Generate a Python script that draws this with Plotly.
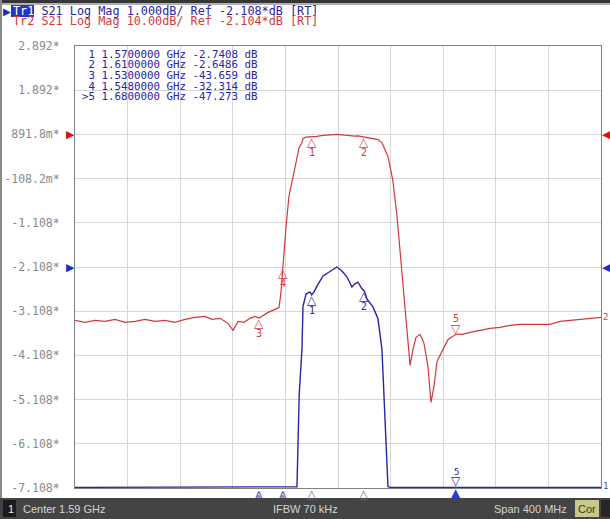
import numpy as np
import plotly.graph_objects as go

# ---------------- data ----------------
freq_ghz = [1.3900, 1.3976, 1.4052, 1.4128, 1.4204, 1.4280, 1.4356, 1.4432, 1.4508, 1.4584,
            1.4660, 1.4737, 1.4813, 1.4889, 1.4942, 1.5003, 1.5063, 1.5102, 1.5140, 1.5185,
            1.5231, 1.5269, 1.5300, 1.5330, 1.5368, 1.5421, 1.5452, 1.5467, 1.5480, 1.5505,
            1.5527, 1.5558, 1.5588, 1.5605, 1.5626, 1.5634, 1.5657, 1.5687, 1.5700, 1.5720,
            1.5740, 1.5786, 1.5839, 1.5892, 1.5930, 1.5968, 1.6006, 1.6029, 1.6052, 1.6082,
            1.6100, 1.6120, 1.6166, 1.6204, 1.6234, 1.6257, 1.6280, 1.6300, 1.6318, 1.6349,
            1.6372, 1.6394, 1.6417, 1.6432, 1.6448, 1.6470, 1.6493, 1.6524, 1.6554, 1.6584,
            1.6607, 1.6630, 1.6653, 1.6691, 1.6737, 1.6800, 1.6843, 1.6904, 1.6980, 1.7056,
            1.7132, 1.7208, 1.7284, 1.7360, 1.7436, 1.7512, 1.7588, 1.7664, 1.7740, 1.7816,
            1.7900]
s21_db = [-44.17, -44.63, -44.17, -44.40, -43.95, -44.63, -44.40, -43.95, -44.40, -44.17,
          -44.63, -43.95, -43.50, -43.27, -43.95, -43.72, -44.85, -46.44, -44.40, -44.63,
          -43.72, -43.27, -43.66, -43.05, -42.37, -41.69, -41.24, -37.62, -32.31, -22.91,
          -16.13, -11.60, -7.08, -5.00, -3.96, -2.99, -2.72, -2.67, -2.74, -2.66,
          -2.54, -2.31, -2.20, -2.108, -2.20, -2.33, -2.56, -2.49, -2.45, -2.60,
          -2.65, -2.83, -3.01, -3.28, -3.96, -5.55, -7.08, -10.00, -12.74, -20.65,
          -28.57, -36.49, -44.40, -50.06, -54.36, -50.74, -48.02, -47.34, -49.38, -54.58,
          -62.73, -59.11, -53.45, -51.19, -48.48, -47.27, -47.34, -46.89, -46.44, -45.99,
          -45.76, -45.31, -45.08, -45.08, -45.08, -45.08, -44.40, -44.17, -43.95, -43.72,
          -43.50]

marker_ids = [1, 2, 3, 4, 5]
marker_freq_ghz = [1.5700000, 1.6100000, 1.5300000, 1.5480000, 1.6800000]
marker_db = [-2.7408, -2.6486, -43.659, -32.314, -47.273]
active_marker = 5

y_tick_vals = [2.892, 1.892, 0.892, -0.108, -1.108, -2.108, -3.108, -4.108, -5.108, -6.108, -7.108]
y_tick_labels = ["2.892*", "1.892*", "891.8m*", "-108.2m*", "-1.108*", "-2.108*",
                 "-3.108*", "-4.108*", "-5.108*", "-6.108*", "-7.108*"]

center_ghz, span_ghz = 1.59, 0.4
tr1_ref, tr1_scale, tr1_refpos = -2.108, 1.0, 5
tr2_ref, tr2_scale, tr2_refpos = -2.104, 10.0, 8
ndiv = 10

# ---------------- styling ----------------
BLUE = "#2626a6"
RED = "#d23a3a"
MONO = "DejaVu Sans Mono, monospace"
SANS = "Liberation Sans, Arial, sans-serif"
W, H = 610, 519
PL, PT, PW, PH = 75, 46, 526, 442

def px(x):
    return (x - PL) / PW

def py(y):
    return (PT + PH - y) / PH

f0 = center_ghz - span_ghz / 2
f1 = center_ghz + span_ghz / 2
y1_rng = [tr1_ref - tr1_refpos * tr1_scale, tr1_ref + (ndiv - tr1_refpos) * tr1_scale]
y2_rng = [tr2_ref - tr2_refpos * tr2_scale, tr2_ref + (ndiv - tr2_refpos) * tr2_scale]

s21 = np.array(s21_db)
eps = 0.015
blue_disp = np.clip(s21, y1_rng[0] + eps, y1_rng[1])

fig = go.Figure()
fig.add_trace(go.Scatter(x=freq_ghz, y=s21_db, mode="lines", yaxis="y2",
                         line=dict(color=RED, width=1.2), hoverinfo="skip"))
fig.add_trace(go.Scatter(x=freq_ghz, y=blue_disp, mode="lines", yaxis="y",
                         line=dict(color=BLUE, width=1.4), hoverinfo="skip"))

ann = []

def text(x, y, s, color, size=11.5, xanchor="left", yanchor="middle", font=MONO,
         xref="paper", yref="paper", xshift=0, yshift=0):
    ann.append(dict(x=x, y=y, xref=xref, yref=yref, text=s, showarrow=False,
                    xanchor=xanchor, yanchor=yanchor, xshift=xshift, yshift=yshift,
                    borderpad=0,
                    font=dict(family=font, size=size, color=color)))

# markers on traces
for mid, mf, mv in zip(marker_ids, marker_freq_ghz, marker_db):
    for axis, rng, col in (("y2", y2_rng, RED), ("y", y1_rng, BLUE)):
        inside = rng[0] <= mv <= rng[1]
        if inside:
            if mid == active_marker:
                text(mf, mv, "▽", col, 12, "center", "bottom", "DejaVu Sans", "x", axis, yshift=-3)
                text(mf, mv, str(mid), col, 10, "center", "bottom", MONO, "x", axis, yshift=9)
            else:
                text(mf, mv, "△", col, 12, "center", "top", "DejaVu Sans", "x", axis, yshift=3)
                text(mf, mv, str(mid), col, 10, "center", "top", MONO, "x", axis, yshift=-9)
        elif axis == "y":
            # out of range below: indicator at bottom edge
            if mid == active_marker:
                text(mf, y1_rng[0], "▽", col, 12, "center", "bottom", "DejaVu Sans", "x", "y", yshift=-1)
                text(mf, y1_rng[0], str(mid), col, 9, "center", "bottom", MONO, "x", "y", yshift=10)
                text(mf, y1_rng[0], "▲", "#1f3fd0", 12, "center", "top", "DejaVu Sans", "x", "y", yshift=3)
            else:
                text(mf, y1_rng[0], "⩓", "#3a3a9a", 13, "center", "top", "DejaVu Sans", "x", "y", yshift=3)

# stimulus indicators of in-range markers at bottom
for mid, mf, mv in zip(marker_ids, marker_freq_ghz, marker_db):
    if y1_rng[0] <= mv <= y1_rng[1]:
        text(mf, y1_rng[0], "△", "#5a5a8a", 12, "center", "top", "DejaVu Sans", "x", "y", yshift=2)

# reference level arrows
for ref, axis, col in ((tr2_ref, "y2", "#e01010"), (tr1_ref, "y", "#1030e0")):
    text(0, ref, "▶", col, 11, "right", "middle", "DejaVu Sans", "paper", axis, xshift=1)
    text(1, ref, "◀", col, 11, "left", "middle", "DejaVu Sans", "paper", axis, xshift=0)

# trace end labels
text(1, s21_db[-1], "2", RED, 9, "left", "middle", MONO, "paper", "y2", xshift=1)
text(1, y1_rng[0], "1", "#4a4a8a", 9, "left", "middle", MONO, "paper", "y", xshift=1, yshift=2)

# header
text(px(12), py(11), "<span style='color:white'>Tr1</span> S21 Log Mag 1.000dB/ Ref -2.108*dB [RT]",
     BLUE, 11.8)
text(px(12), py(21), "Tr2 S21 Log Mag 10.00dB/ Ref -2.104*dB [RT]", RED, 11.8)
text(px(2), py(11), "▶", "#1a2ad0", 10, "left", "middle", "DejaVu Sans")

# marker table
for i, (mid, mf, mv) in enumerate(zip(marker_ids, marker_freq_ghz, marker_db)):
    flag = ">" if mid == active_marker else "&nbsp;"
    val = f"{mv:.5g}"
    text(px(81), py(54 + i * 10.7), f"{flag}{mid} {mf:.7f} GHz {val} dB", BLUE, 10.8)

# status bar
text(px(7), py(509), "1", "#e8e8e8", 11, "left", "middle", SANS)
text(px(22), py(509), "Center 1.59 GHz", "#d4d4d4", 11, "left", "middle", SANS)
text(px(305), py(509), "IFBW 70 kHz", "#d4d4d4", 11, "center", "middle", SANS)
text(px(568), py(509), "Span 400 MHz", "#d4d4d4", 11, "right", "middle", SANS)
text(px(587), py(509), "Cor", "#3a3a20", 11, "center", "middle", SANS)

shapes = [
    dict(type="rect", xref="paper", yref="paper", x0=px(0), x1=px(W), y0=py(0), y1=py(3),
         fillcolor="#353535", line=dict(width=0), layer="above"),
    dict(type="rect", xref="paper", yref="paper", x0=px(0), x1=px(W), y0=py(3), y1=py(5),
         fillcolor="#b0b0b0", line=dict(width=0), layer="above"),
    dict(type="rect", xref="paper", yref="paper", x0=px(0), x1=px(2), y0=py(0), y1=py(498),
         fillcolor="#8a8a8a", line=dict(width=0), layer="above"),
    dict(type="rect", xref="paper", yref="paper", x0=px(0), x1=px(W), y0=py(498), y1=py(H),
         fillcolor="#444444", line=dict(width=0), layer="above"),
    dict(type="rect", xref="paper", yref="paper", x0=px(3), x1=px(16), y0=py(500), y1=py(517),
         fillcolor="#1c1c1c", line=dict(width=0), layer="above"),
    dict(type="rect", xref="paper", yref="paper", x0=px(575), x1=px(599), y0=py(500), y1=py(517),
         fillcolor="#c8c78c", line=dict(width=0), layer="above"),
    dict(type="rect", xref="paper", yref="paper", x0=px(601), x1=px(W), y0=py(500), y1=py(517),
         fillcolor="#262626", line=dict(width=0), layer="above"),
    dict(type="rect", xref="paper", yref="paper", x0=px(11), x1=px(34), y0=py(5), y1=py(17),
         fillcolor="#2434c8", line=dict(width=0), layer="above"),
]

x_grid = list(np.linspace(f0, f1, ndiv + 1))

fig.update_layout(
    width=W, height=H,
    margin=dict(l=PL, r=W - PL - PW, t=PT, b=H - PT - PH, pad=0, autoexpand=False),
    paper_bgcolor="white", plot_bgcolor="white",
    showlegend=False,
    xaxis=dict(range=[f0, f1], tickvals=x_grid, showticklabels=False, ticks="",
               showgrid=True, gridcolor="#d6d6d6", gridwidth=1, zeroline=False,
               showline=True, mirror=True, linecolor="#808080", linewidth=1,
               automargin=False),
    yaxis=dict(range=y1_rng, tickvals=y_tick_vals, ticktext=y_tick_labels, ticks="",
               showgrid=True, gridcolor="#d6d6d6", gridwidth=1, zeroline=False,
               showline=True, mirror=True, linecolor="#808080", linewidth=1,
               ticklabelstandoff=12, automargin=False,
               tickfont=dict(family=MONO, size=11.5, color="#8a8a8a")),
    yaxis2=dict(range=y2_rng, overlaying="y", side="right", visible=False, showgrid=False,
                zeroline=False),
    annotations=ann,
    shapes=shapes,
)

fig.write_html("out.html", config={"displayModeBar": False},
               post_script="document.body.style.margin='0px';document.body.style.overflow='hidden';")
